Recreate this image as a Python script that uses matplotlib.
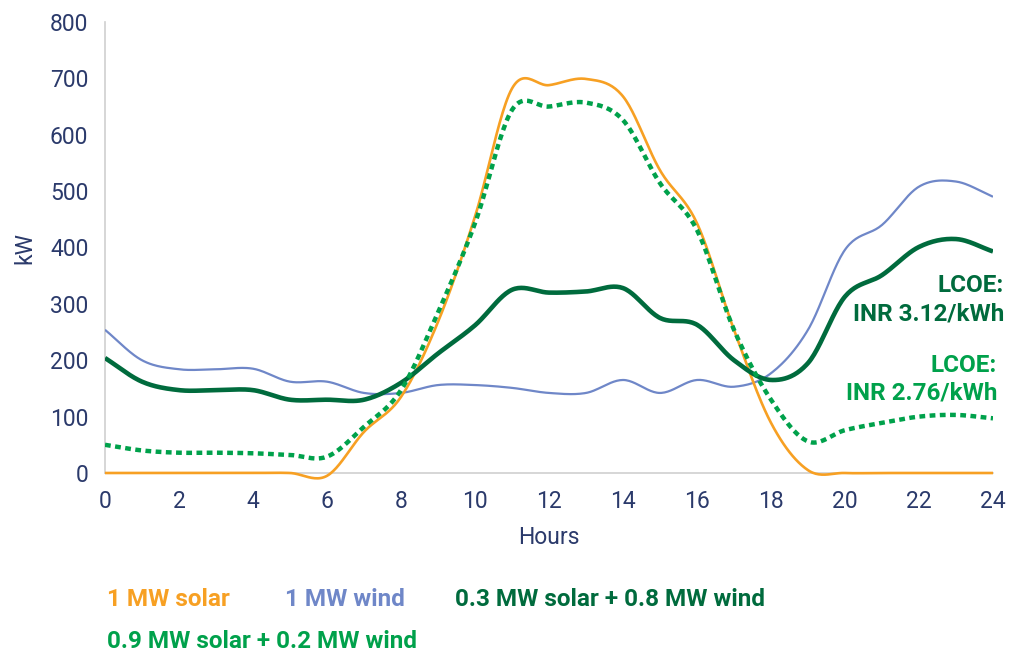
import numpy as np
import matplotlib
matplotlib.use("Agg")
import matplotlib.pyplot as plt

plt.rcParams['font.family'] = ['Roboto', 'DejaVu Sans']

hours = list(range(25))
solar = [0, 0, 0, 0, 0, 0, -5, 73, 135, 268, 455, 682, 688, 699, 668, 537, 443, 254, 89, 5, 0, 0, 0, 0, 0]
wind = [254, 200, 184, 184, 185, 162, 162, 142, 142, 156, 156, 151, 142, 142, 165, 142, 165, 153, 177, 254, 396, 440, 508, 517, 490]
mix_a = [204, 162, 147, 147, 147, 130, 130, 130, 160, 212, 262, 325, 320, 322, 328, 275, 263, 200, 165, 195, 313, 351, 401, 415, 393]
mix_b = [50, 40, 36, 36, 35, 32, 29, 82, 147, 285, 443, 644, 650, 657, 626, 514, 431, 254, 130, 56, 76, 89, 100, 103, 97]

series_names = ["1 MW solar", "1 MW wind", "0.3 MW solar + 0.8 MW wind", "0.9 MW solar + 0.2 MW wind"]
y_ticks = [0, 100, 200, 300, 400, 500, 600, 700, 800]
x_ticks = [0, 2, 4, 6, 8, 10, 12, 14, 16, 18, 20, 22, 24]

C_SOLAR = "#F7A023"
C_WIND = "#6F87C8"
C_DARK = "#006B3D"
C_BRIGHT = "#00A14B"
C_TEXT = "#2B3A6B"


def smooth(x, y, n=24):
    x = np.asarray(x, float)
    y = np.asarray(y, float)
    px = np.concatenate([[2 * x[0] - x[1]], x, [2 * x[-1] - x[-2]]])
    py = np.concatenate([[2 * y[0] - y[1]], y, [2 * y[-1] - y[-2]]])
    xs, ys = [], []
    t = np.linspace(0, 1, n, endpoint=False)
    for i in range(1, len(px) - 2):
        p0, p1, p2, p3 = py[i - 1], py[i], py[i + 1], py[i + 2]
        q0, q1, q2, q3 = px[i - 1], px[i], px[i + 1], px[i + 2]
        c1y = p1 + (p2 - p0) / 6
        c2y = p2 - (p3 - p1) / 6
        c1x = q1 + (q2 - q0) / 6
        c2x = q2 - (q3 - q1) / 6
        b = lambda a0, a1, a2, a3: ((1 - t) ** 3 * a0 + 3 * (1 - t) ** 2 * t * a1
                                    + 3 * (1 - t) * t ** 2 * a2 + t ** 3 * a3)
        xs.append(b(q1, c1x, c2x, q2))
        ys.append(b(p1, c1y, c2y, p2))
    xs.append([x[-1]])
    ys.append([y[-1]])
    return np.concatenate(xs), np.concatenate(ys)


fig = plt.figure(figsize=(10.23, 6.59), dpi=100)
ax = fig.add_axes([105 / 1023, (659 - 473) / 659, 888 / 1023, 451 / 659])

sx, sy = smooth(hours, wind)
ax.plot(sx, sy, color=C_WIND, lw=1.6, solid_capstyle='butt', zorder=2)
sx, sy = smooth(hours, solar)
ax.plot(sx, sy, color=C_SOLAR, lw=1.9, solid_capstyle='butt', zorder=3, clip_on=False)
sx, sy = smooth(hours, mix_a)
ax.plot(sx, sy, color=C_DARK, lw=3.3, solid_capstyle='butt', zorder=4)
sx, sy = smooth(hours, mix_b)
ax.plot(sx, sy, color=C_BRIGHT, lw=3.2, linestyle=(0, (1.3, 1.0)), dash_capstyle='butt', zorder=5)

ax.set_xlim(0, 24)
ax.set_ylim(0, 800)
ax.set_xticks(x_ticks)
ax.set_yticks(y_ticks)
ax.tick_params(length=0, labelsize=16.5, colors=C_TEXT, pad=12)
ax.tick_params(axis='x', pad=12)
for s in ['top', 'right']:
    ax.spines[s].set_visible(False)
for s in ['left', 'bottom']:
    ax.spines[s].set_color('#CFCFCF')
    ax.spines[s].set_linewidth(1.2)
    ax.spines[s].set_zorder(1)

fig.text(25 / 1023, 1 - 248 / 659, "kW", rotation=90, ha='center', va='center', fontsize=16.5, color=C_TEXT)
fig.text(549 / 1023, 1 - 538 / 659, "Hours", ha='center', va='center', fontsize=16.5, color=C_TEXT)

# LCOE annotations
fs = 17.5
fig.text(1004 / 1023, 1 - 286 / 659, "LCOE:", ha='right', va='center', fontsize=fs, fontweight='bold', color=C_DARK)
fig.text(1004 / 1023, 1 - 314 / 659, "INR 3.12/kWh", ha='right', va='center', fontsize=fs, fontweight='bold', color=C_DARK)
fig.text(997 / 1023, 1 - 365 / 659, "LCOE:", ha='right', va='center', fontsize=fs, fontweight='bold', color=C_BRIGHT)
fig.text(997 / 1023, 1 - 393 / 659, "INR 2.76/kWh", ha='right', va='center', fontsize=fs, fontweight='bold', color=C_BRIGHT)

# legend as coloured text
leg_pos = [(107, 600), (285, 600), (455, 600), (107, 641)]
leg_cols = [C_SOLAR, C_WIND, C_DARK, C_BRIGHT]
for name, (lx, ly), c in zip(series_names, leg_pos, leg_cols):
    fig.text(lx / 1023, 1 - ly / 659, name, ha='left', va='center', fontsize=fs, fontweight='bold', color=c)

fig.savefig("out.png", dpi=100)
